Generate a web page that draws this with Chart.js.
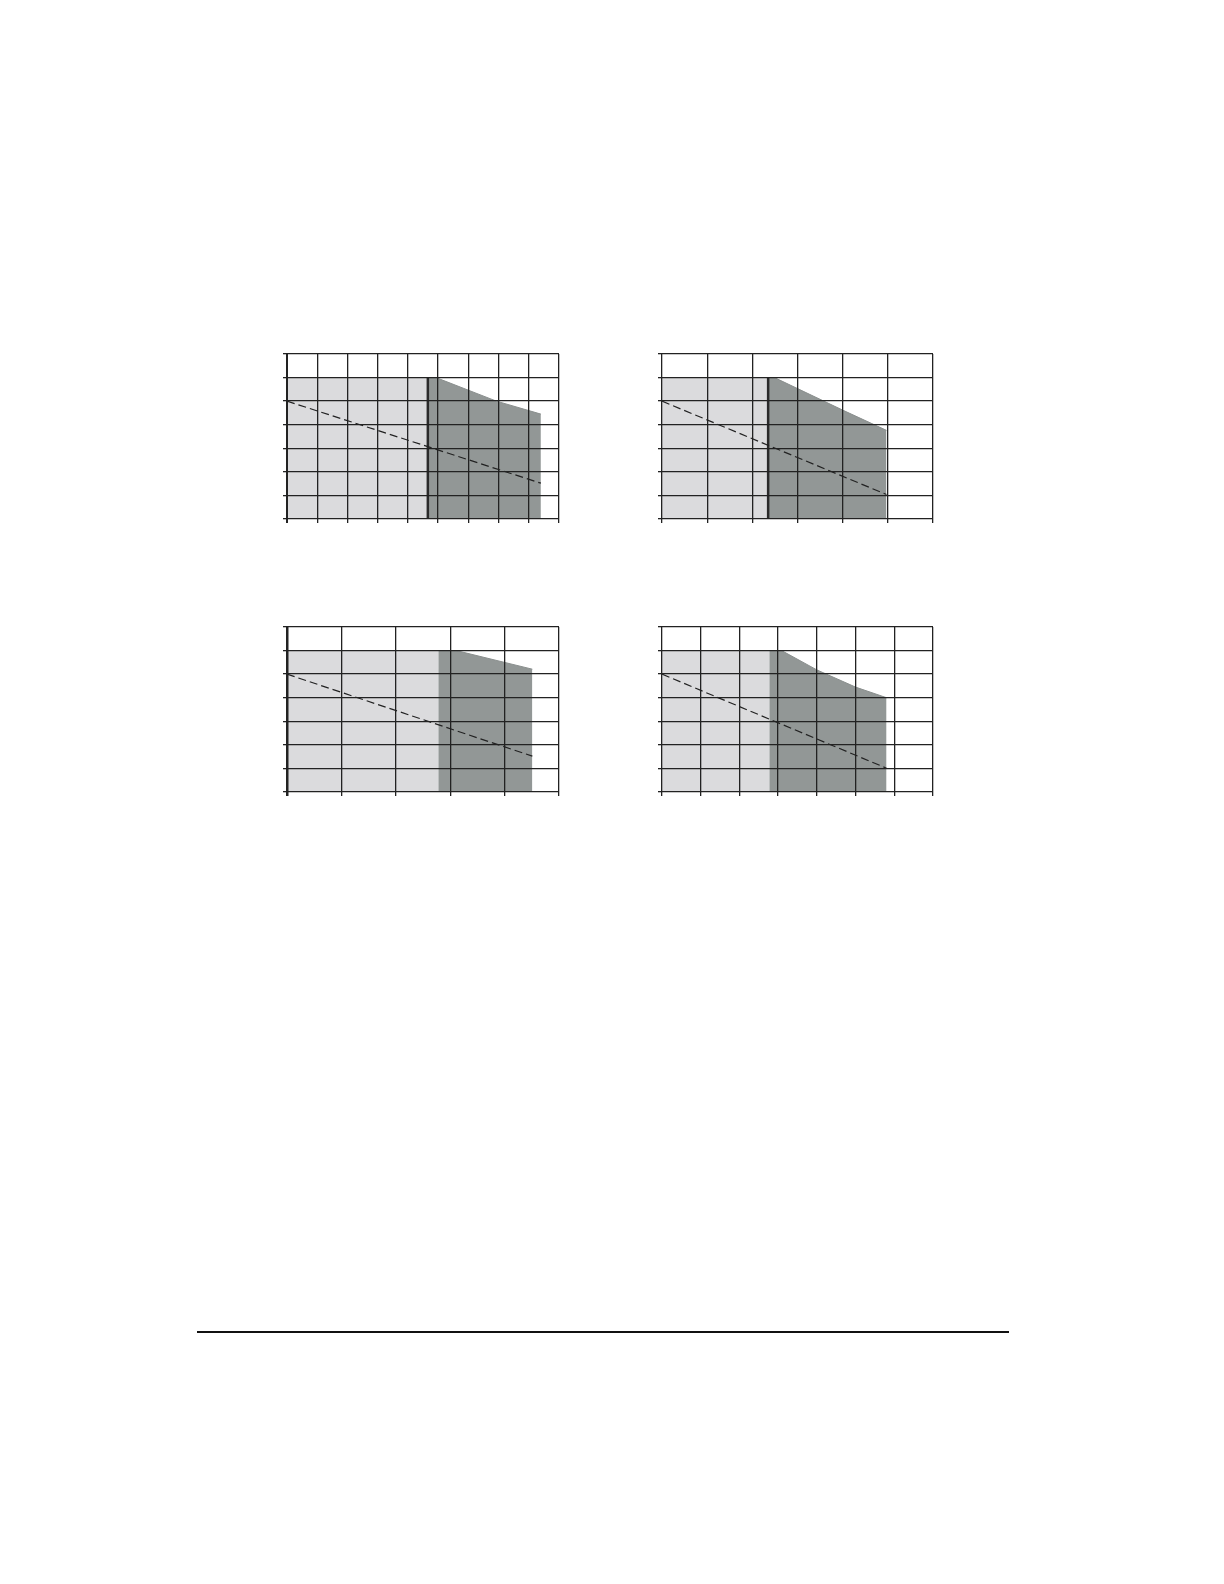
<!DOCTYPE html>
<html>
<head>
<meta charset="utf-8">
<script src="https://cdn.jsdelivr.net/npm/chart.js@4.4.1/dist/chart.umd.min.js"></script>
<style>
  html, body { margin: 0; padding: 0; background: #ffffff; }
  body { width: 1224px; height: 1584px; position: relative; overflow: hidden; }
  .box { position: absolute; }
  .rule { position: absolute; left: 197px; top: 1331px; width: 812px; height: 2px; background: #111; }
</style>
</head>
<body>
<div class="box" id="b1"><canvas id="c1"></canvas></div>
<div class="box" id="b2"><canvas id="c2"></canvas></div>
<div class="box" id="b3"><canvas id="c3"></canvas></div>
<div class="box" id="b4"><canvas id="c4"></canvas></div>
<div class="rule"></div>
<script>
// ---- Data ----
// Y axis grid steps (0..7) shared by all panels
const yTicks = [0, 1, 2, 3, 4, 5, 6, 7];

// Panel 1 (top left)
const p1XMax = 9;
const p1LightX = [0, 4.66];
const p1LightY = [6, 6];
const p1DarkX = [4.66, 4.93, 6.93, 8.4];
const p1DarkY = [6, 6, 5.0, 4.45];
const p1DividerX = [4.66, 4.66];
const p1DividerY = [0, 6];
const p1DashX = [0, 8.4];
const p1DashY = [5, 1.52];

// Panel 2 (top right)
const p2XMax = 6;
const p2LightX = [0, 2.35];
const p2LightY = [6, 6];
const p2DarkX = [2.35, 2.49, 4.0, 4.97];
const p2DarkY = [6, 6, 4.62, 3.76];
const p2DividerX = [2.35, 2.35];
const p2DividerY = [0, 6];
const p2DashX = [0, 4.97];
const p2DashY = [5, 1.04];

// Panel 3 (bottom left)
const p3XMax = 5;
const p3LightX = [0, 2.78];
const p3LightY = [6, 6];
const p3DarkX = [2.78, 3.11, 4.51];
const p3DarkY = [6, 6, 5.21];
const p3DashX = [0, 4.51];
const p3DashY = [5, 1.52];

// Panel 4 (bottom right)
const p4XMax = 7;
const p4LightX = [0, 2.77];
const p4LightY = [6, 6];
const p4DarkX = [2.77, 3.09, 4.0, 5.0, 5.8];
const p4DarkY = [6, 6, 5.18, 4.45, 4.0];
const p4DashX = [0, 5.8];
const p4DashY = [5, 1.01];

// ---- Styles ----
const LIGHT = '#dbdbdd';
const DARK = '#929796';
const GRID = '#222222';
const TICK = 4;
const PAD = 4;

function pts(xs, ys) { return xs.map((x, i) => ({ x: x, y: ys[i] })); }

function makePanel(boxId, canvasId, plotLeft, plotTop, plotW, plotH, xMax, d, leftBorderW) {
  const box = document.getElementById(boxId);
  const cw = plotW + TICK + PAD * 2;
  const ch = plotH + TICK + PAD * 2;
  box.style.left = (plotLeft - TICK - PAD) + 'px';
  box.style.top = (plotTop - PAD) + 'px';
  box.style.width = cw + 'px';
  box.style.height = ch + 'px';
  const cv = document.getElementById(canvasId);
  cv.width = cw; cv.height = ch;
  cv.style.width = cw + 'px'; cv.style.height = ch + 'px';

  const datasets = [
    { data: pts(d.lightX, d.lightY), fill: 'origin', backgroundColor: LIGHT,
      borderWidth: 0, pointRadius: 0, order: 5 },
    { data: pts(d.darkX, d.darkY), fill: 'origin', backgroundColor: DARK,
      borderColor: '#8a8f8e', borderWidth: 1, pointRadius: 0, order: 4 }
  ];
  if (d.divX) {
    datasets.push({ data: pts(d.divX, d.divY), fill: false, borderColor: '#2a2a2a',
      borderWidth: 2.5, pointRadius: 0, order: 2 });
  }
  datasets.push({ data: pts(d.dashX, d.dashY), fill: false, borderColor: '#222',
    borderWidth: 1.2, borderDash: [8, 4], pointRadius: 0, order: 1 });

  new Chart(cv, {
    type: 'line',
    data: { datasets: datasets },
    options: {
      responsive: false,
      animation: false,
      devicePixelRatio: 1,
      layout: { padding: { left: PAD, right: PAD, top: PAD, bottom: PAD } },
      plugins: { legend: { display: false }, tooltip: { enabled: false } },
      elements: { line: { tension: 0 } },
      scales: {
        x: {
          type: 'linear', min: 0, max: xMax, z: 1,
          ticks: { display: false, stepSize: 1 },
          grid: { color: GRID, tickLength: TICK, drawTicks: true, z: 1,
                  lineWidth: (c) => (c.index === 0 ? leftBorderW : 1.3) },
          border: { display: false }
        },
        y: {
          type: 'linear', min: yTicks[0], max: yTicks[yTicks.length - 1], z: 1,
          ticks: { display: false, stepSize: 1 },
          grid: { color: GRID, lineWidth: 1.3, tickLength: TICK, drawTicks: true, z: 1 },
          border: { display: false }
        }
      }
    }
  });
}

makePanel('b1', 'c1', 287, 354, 272, 165, p1XMax,
  { lightX: p1LightX, lightY: p1LightY, darkX: p1DarkX, darkY: p1DarkY,
    divX: p1DividerX, divY: p1DividerY, dashX: p1DashX, dashY: p1DashY }, 2);
makePanel('b2', 'c2', 662, 354, 271, 165, p2XMax,
  { lightX: p2LightX, lightY: p2LightY, darkX: p2DarkX, darkY: p2DarkY,
    divX: p2DividerX, divY: p2DividerY, dashX: p2DashX, dashY: p2DashY }, 1.3);
makePanel('b3', 'c3', 287, 627, 272, 165, p3XMax,
  { lightX: p3LightX, lightY: p3LightY, darkX: p3DarkX, darkY: p3DarkY,
    dashX: p3DashX, dashY: p3DashY }, 2.5);
makePanel('b4', 'c4', 662, 627, 271, 165, p4XMax,
  { lightX: p4LightX, lightY: p4LightY, darkX: p4DarkX, darkY: p4DarkY,
    dashX: p4DashX, dashY: p4DashY }, 1.3);
</script>
</body>
</html>
